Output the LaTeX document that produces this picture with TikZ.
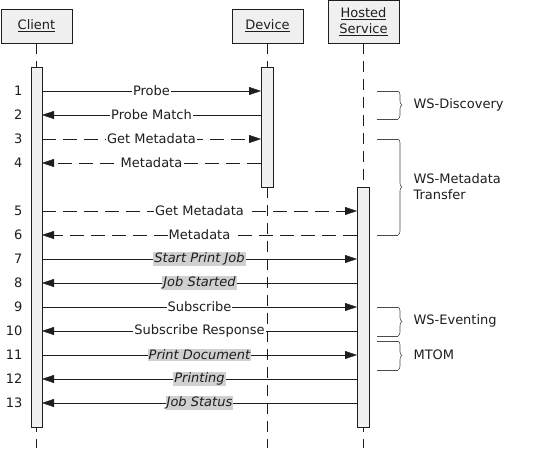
\documentclass[tikz,border=0pt]{standalone}
\usepackage{fontspec}
\setmainfont{DejaVu Sans}
\usepackage{tikz}
\usetikzlibrary{arrows.meta,positioning,decorations.pathreplacing}
\definecolor{barfill}{HTML}{F0F0F0}
\definecolor{hilite}{HTML}{D0D0D0}
\definecolor{ink}{HTML}{1E1E1E}

\begin{document}
\begin{tikzpicture}[x=1pt, y=-1pt,
    every node/.style={font=\fontsize{13}{16}\selectfont, text=ink},
    head/.style={draw=ink, fill=barfill, minimum width=71pt, minimum height=34pt, inner sep=1pt, align=center},
    life/.style={ink, dash pattern=on 11pt off 7pt},
    bar/.style={draw=ink, fill=barfill},
    msg/.style={-{Triangle[length=12pt,width=8pt]}, ink},
    dsh/.style={dash pattern=on 14pt off 7pt},
    lbl/.style={fill=white, inner sep=1pt},
    hot/.style={fill=hilite, inner sep=1pt, font=\fontsize{13}{16}\selectfont\itshape},
    grp/.style={ink!80, line width=0.6pt},
    brc/.style={grp, decorate, decoration={brace, amplitude=4pt}},
    grplbl/.style={anchor=west, align=left}]
  \useasboundingbox (0,0) rectangle (547,466);
  % participants
  \node[head] (client) at (36.5,26) {\underline{Client}};
  \node[head] (device) at (267.5,26) {\underline{Device}};
  \node[head, minimum height=43pt] (hosted) at (363.5,21.5) {\underline{Hosted}\\\underline{Service}};
  \coordinate (clientend) at (36.5,448);
  \coordinate (deviceend) at (267.5,448);
  \coordinate (hostedend) at (363.5,448);
  \draw[life] (client) -- (clientend);
  \draw[life] (device) -- (deviceend);
  \draw[life] (hosted) -- (hostedend);
  % activation bars
  \draw[bar] (31,67) rectangle (42,427);
  \draw[bar] (261,67) rectangle (273,187);
  \draw[bar] (357,187) rectangle (369,427);
  % rows
  \foreach \n/\y in {1/91,2/115,3/139,4/163,5/211,6/235,7/259,8/283,9/307,10/331,11/355,12/379,13/403} {
    \node[anchor=east] (num\n) at (26,\y) {\n};
    \coordinate (c\n) at (42,\y);
    \coordinate (d\n) at (261,\y);
    \coordinate (h\n) at (357,\y);
  }
  % messages
  \draw[msg] (c1) -- node[lbl] {Probe} (d1);
  \draw[msg] (d2) -- node[lbl] {Probe Match} (c2);
  \draw[msg, dsh] (c3) -- node[lbl] {Get Metadata} (d3);
  \draw[msg, dsh] (d4) -- node[lbl] {Metadata} (c4);
  \draw[msg, dsh] (c5) -- node[lbl] {Get Metadata} (h5);
  \draw[msg, dsh] (h6) -- node[lbl] {Metadata} (c6);
  \draw[msg] (c7) -- node[hot] {Start Print Job} (h7);
  \draw[msg] (h8) -- node[hot] {Job Started} (c8);
  \draw[msg] (c9) -- node[lbl] {Subscribe} (h9);
  \draw[msg] (h10) -- node[lbl] {Subscribe Response} (c10);
  \draw[msg] (c11) -- node[hot] {Print Document} (h11);
  \draw[msg] (h12) -- node[hot] {Printing} (c12);
  \draw[msg] (h13) -- node[hot] {Job Status} (c13);
  % protocol groups
  \draw[grp] (377,91) -- (398,91);   \draw[grp] (377,119) -- (398,119);
  \draw[brc] (398,91) -- (398,119);
  \node[grplbl] (disc) at (410,105) {WS-Discovery};
  \draw[grp] (377,139) -- (398,139); \draw[grp] (377,235) -- (398,235);
  \draw[brc] (398,139) -- (398,235);
  \node[grplbl] (meta) at (410,187) {WS-Metadata\\Transfer};
  \draw[grp] (377,307) -- (398,307); \draw[grp] (377,336) -- (398,336);
  \draw[brc] (398,307) -- (398,336);
  \node[grplbl] (event) at (410,321) {WS-Eventing};
  \draw[grp] (377,341) -- (398,341); \draw[grp] (377,370) -- (398,370);
  \draw[brc] (398,341) -- (398,370);
  \node[grplbl] (mtom) at (410,355) {MTOM};
\end{tikzpicture}
\end{document}
